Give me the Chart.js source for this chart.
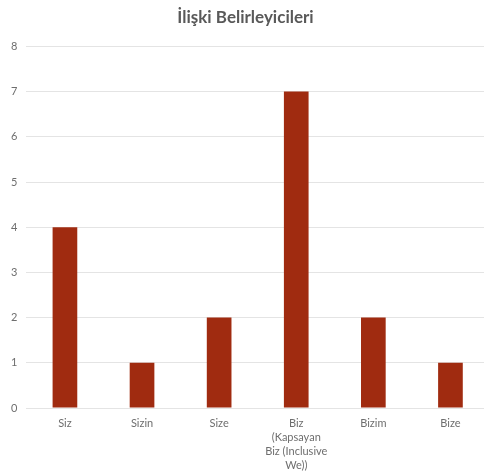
<!DOCTYPE html>
<html>
<head>
<meta charset="utf-8">
<script src="https://cdn.jsdelivr.net/npm/chart.js@4/dist/chart.umd.min.js"></script>
<style>
  html, body { margin: 0; padding: 0; background: #fff; overflow: hidden; }
  #chart { display: block; }
</style>
</head>
<body>
<canvas id="chart" width="489" height="473"></canvas>
<script>
// kategoriler ve değerler
const kategoriler = [
    'Siz',
    'Sizin',
    'Size',
    ['Biz', '(Kapsayan', 'Biz (Inclusive', 'We))'],
    'Bizim',
    'Bize'
]
const degerler = [4, 1, 2, 7, 2, 1]
const baslik = 'İlişki Belirleyicileri'

const gri = '#595959'
const griAcik = '#6e6e6e'
const yazi = "Lato, 'DejaVu Sans', sans-serif"

window.onload = () => {
    const ctx = document.getElementById('chart').getContext('2d')
    new Chart(ctx, {
        type: 'bar',
        data: {
            labels: kategoriler,
            datasets: [{
                data: degerler,
                backgroundColor: '#A02B10',
                borderWidth: 0,
                categoryPercentage: 1,
                barPercentage: 0.32
            }]
        },
        options: {
            responsive: false,
            animation: false,
            layout: { padding: { left: 2, right: 0, top: 2, bottom: 0 } },
            scales: {
                y: {
                    min: 0,
                    max: 8,
                    ticks: { stepSize: 1, color: griAcik, font: { family: yazi, size: 11 }, padding: 9 },
                    grid: { color: '#e4e4e4', lineWidth: 1, drawTicks: false },
                    border: { display: false }
                },
                x: {
                    // eksen yazıları için sabit yükseklik
                    afterFit: (scale) => { scale.height = 65 },
                    ticks: { color: griAcik, font: { family: yazi, size: 11, lineHeight: 1.28 }, padding: 8, maxRotation: 0, autoSkip: false },
                    grid: { display: false, drawTicks: false },
                    border: { display: false }
                }
            },
            plugins: {
                legend: { display: false },
                tooltip: { enabled: false },
                title: {
                    display: true,
                    text: baslik,
                    color: gri,
                    font: { family: yazi, size: 17, weight: 'bold' },
                    padding: { top: 5, bottom: 19 }
                }
            }
        }
    })
}
</script>
</body>
</html>
